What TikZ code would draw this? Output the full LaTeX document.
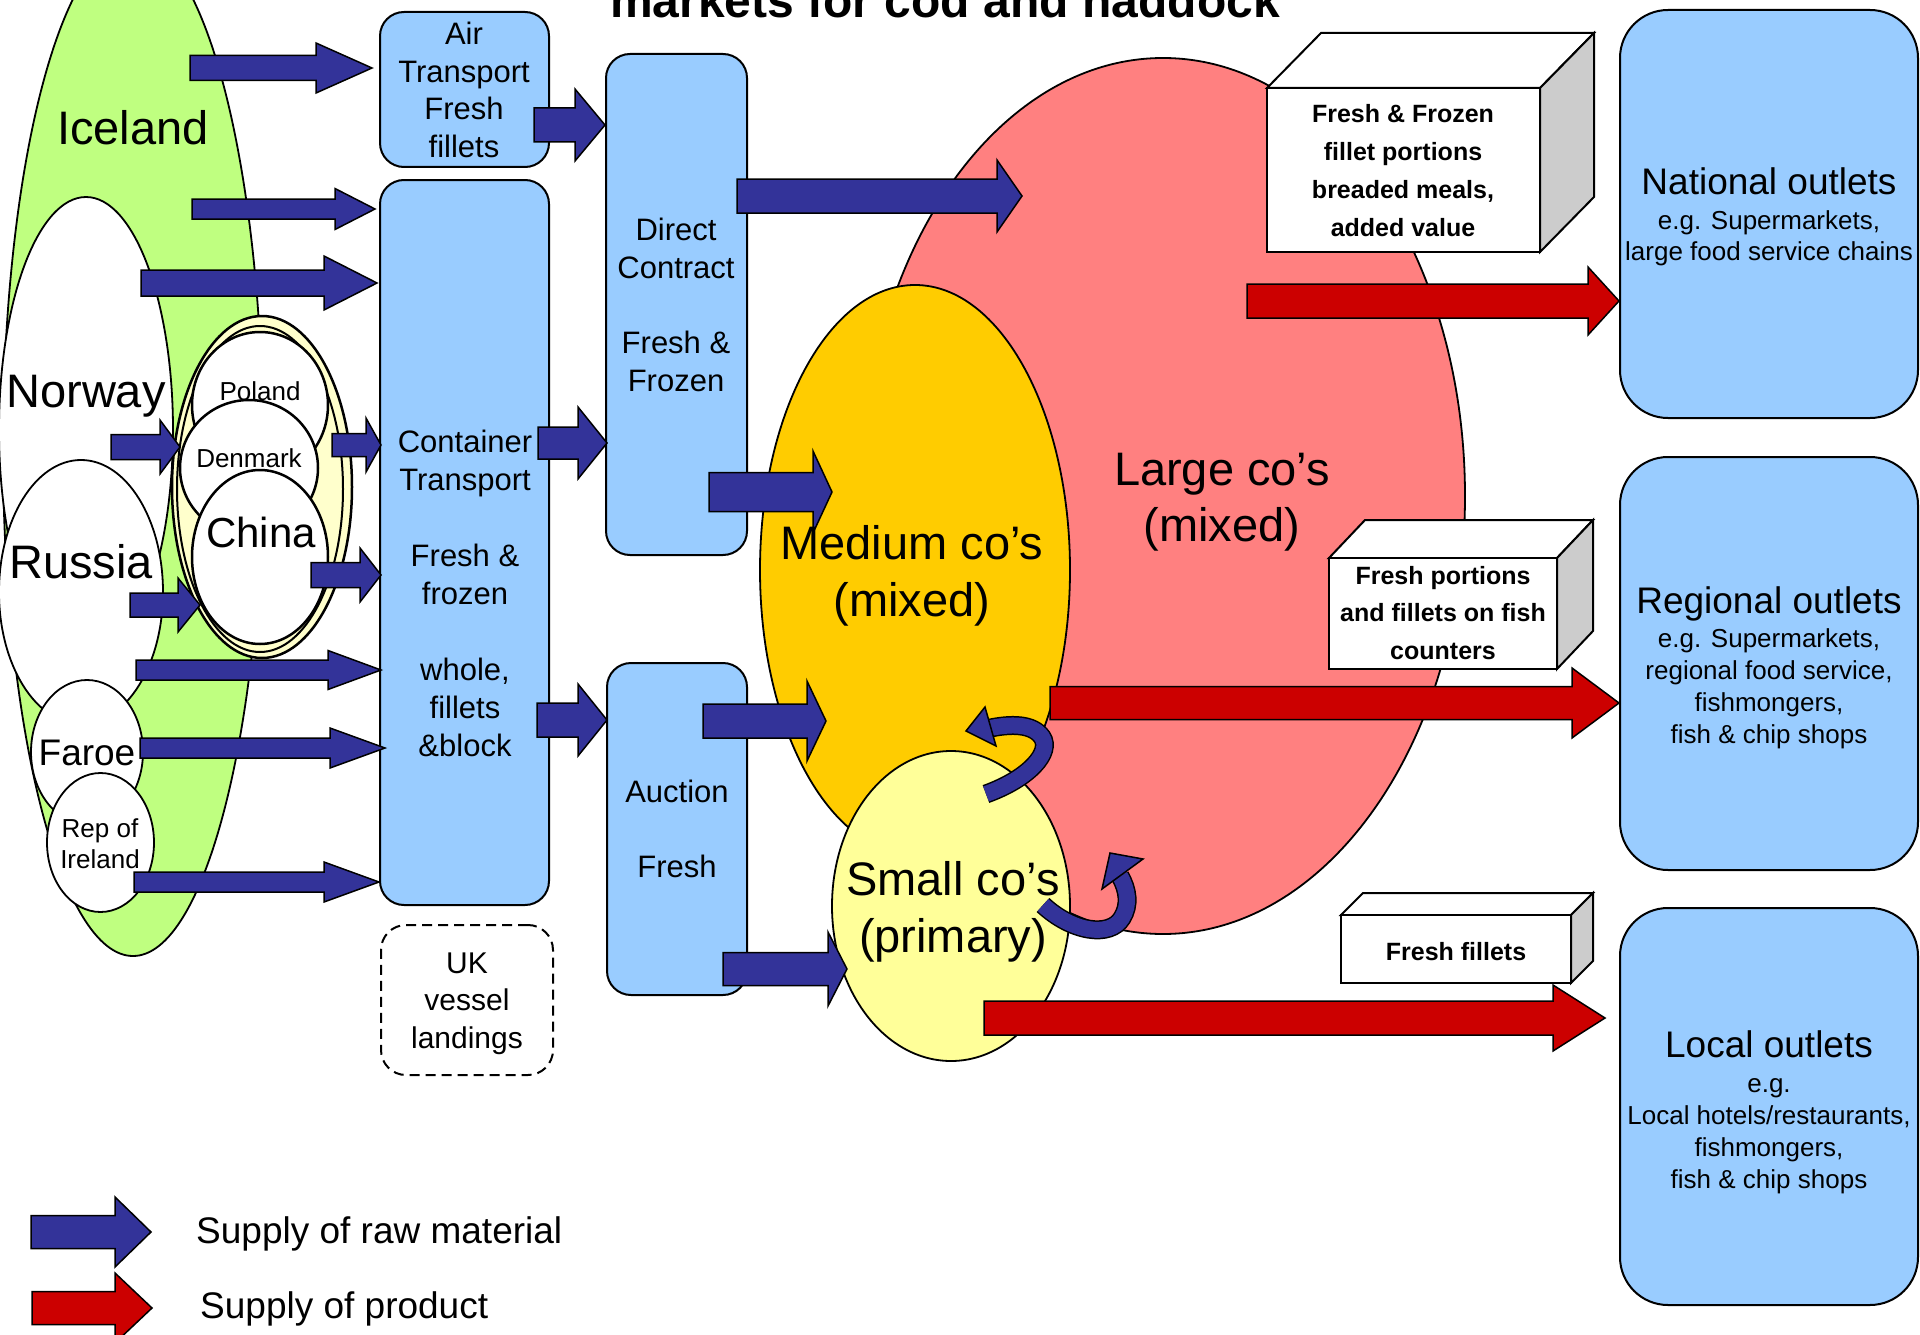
\documentclass[tikz,border=0pt]{standalone}
\usepackage{fontspec}
\setmainfont{Liberation Sans}
\usetikzlibrary{shapes.geometric}
\definecolor{icegreen}{RGB}{191,255,128}
\definecolor{boxblue}{RGB}{153,204,255}
\definecolor{cream}{RGB}{255,255,204}
\definecolor{largepink}{RGB}{255,128,128}
\definecolor{medorange}{RGB}{255,204,0}
\definecolor{smallyellow}{RGB}{255,255,153}
\definecolor{rawblue}{RGB}{51,51,153}
\definecolor{prodred}{RGB}{204,0,0}
\definecolor{sidegray}{RGB}{204,204,204}
\newcommand{\fsz}[2]{\fontsize{#1}{#2}\selectfont}
\newcommand{\ml}[1]{\begin{tabular}[t]{@{}c@{}}#1\end{tabular}}
\newcommand{\blkarrow}[7][rawarrow]{\draw[#1] (#2,#4-#5) -- (#3-#7,#4-#5) -- (#3-#7,#4-#6) -- (#3,#4) -- (#3-#7,#4+#6) -- (#3-#7,#4+#5) -- (#2,#4+#5) -- cycle;}
\tikzset{
 ell/.style={ellipse, draw, line width=1.8pt, inner sep=0pt},
 rbox/.style={rectangle, draw, fill=boxblue, line width=2pt, inner sep=0pt},
 lbl/.style={anchor=base, inner sep=0pt},
 rawarrow/.style={fill=rawblue, draw=black, line width=1.5pt, line join=miter},
 prodarrow/.style={fill=prodred, draw=black, line width=1.5pt, line join=miter},
 face/.style={draw=black, line width=2pt, line join=miter}
}
\begin{document}
\begin{tikzpicture}[x=1pt,y=-1pt]
\useasboundingbox (0,0) rectangle (1920,1335);
\fill[white] (0,0) rectangle (1920,1335);

% ---- supplier countries
\node[ell, fill=icegreen, minimum width=260pt, minimum height=1014pt] (iceland) at (133,449) {};
\node[ell, fill=white, minimum width=174pt, minimum height=466pt] (norway) at (86,430) {};
\node[ell, fill=white, minimum width=164pt, minimum height=264pt] (russia) at (81,592) {};
\node[ell, fill=white, minimum width=112pt, minimum height=144pt] (faroe) at (87,752) {};
\node[ell, fill=white, minimum width=107pt, minimum height=139pt] (ireland) at (100.5,842.5) {};
\node[ell, fill=cream, line width=2.5pt, minimum width=180pt, minimum height=342pt] (group) at (262,487) {};
\node[ell, line width=2pt, minimum width=166pt, minimum height=326pt] (groupin) at (260,489) {};
\node[ell, fill=white, line width=2.5pt, minimum width=136pt, minimum height=146pt] (poland) at (260,405) {};
\node[ell, fill=white, line width=2.5pt, minimum width=138pt, minimum height=136pt] (denmark) at (249,468) {};
\node[ell, fill=white, line width=2.5pt, minimum width=136pt, minimum height=174pt] (china) at (260,557) {};

% ---- transport boxes
\node[rbox, rounded corners=24pt, minimum width=169pt, minimum height=155pt] (air) at (464.5,89.5) {};
\node[rbox, rounded corners=24pt, minimum width=169pt, minimum height=725pt] (cont) at (464.5,542.5) {};
\node[rectangle, draw, dash pattern=on 10pt off 6pt, line width=2pt, rounded corners=25pt, minimum width=172pt, minimum height=150pt, inner sep=0pt] (uk) at (467,1000) {};
\node[rbox, rounded corners=24pt, minimum width=141pt, minimum height=501pt] (direct) at (676.5,304.5) {};
\node[rbox, rounded corners=24pt, minimum width=140pt, minimum height=332pt] (auction) at (677,829) {};

% ---- companies
\node[ell, fill=largepink, minimum width=604pt, minimum height=876pt] (large) at (1163,496) {};
\node[ell, fill=medorange, minimum width=310pt, minimum height=570pt] (medium) at (915,570) {};
\node[ell, fill=smallyellow, minimum width=238pt, minimum height=310pt] (small) at (951,906) {};

% ---- outlets
\node[rbox, rounded corners=48pt, minimum width=298pt, minimum height=408pt] (national) at (1769,214) {};
\node[rbox, rounded corners=48pt, minimum width=298pt, minimum height=413pt] (regional) at (1769,663.5) {};
\node[rbox, rounded corners=48pt, minimum width=298pt, minimum height=397pt] (local) at (1769,1106.5) {};

% ---- raw material arrows
\blkarrow{190}{372}{68}{12.5}{25}{56}
\blkarrow{192}{375}{209}{10}{20.5}{40}
\blkarrow{141}{377}{283}{13}{27}{53}
\blkarrow{111}{180}{447}{12.5}{27}{20}
\blkarrow{332}{381}{445}{11.5}{27}{15}
\blkarrow{534}{605}{125}{17}{36}{30}
\blkarrow{538}{607}{443}{16}{36}{29}
\blkarrow{130}{200}{605}{12}{27}{22}
\blkarrow{311}{381}{575}{12.5}{27}{21}
\blkarrow{136}{381}{670}{10}{19.5}{53}
\blkarrow{140}{385}{748}{10}{20}{55}
\blkarrow{134}{379}{882}{10}{20}{55}
\blkarrow{537}{607}{720}{17}{36}{29}
\blkarrow{737}{1022}{196}{17}{36}{25}
\blkarrow{709}{832}{492}{19.5}{41}{19}
\blkarrow{703}{826}{721}{17}{40}{19}
\blkarrow{723}{847}{969}{16.5}{37}{19}
\blkarrow{31}{151}{1232}{16.5}{35}{36}

% ---- product arrows
\blkarrow[prodarrow]{1247}{1619}{301}{17}{34}{31}
\blkarrow[prodarrow]{1050}{1619}{703}{16.5}{35}{47}
\blkarrow[prodarrow]{984}{1605}{1018}{17}{33}{52}
\blkarrow[prodarrow]{32}{152}{1308}{16.5}{35}{37}

% ---- product boxes (3D)
\draw[face, fill=white] (1267,88) -- (1321,33) -- (1594,33) -- (1540,88) -- cycle;
\draw[face, fill=sidegray] (1540,88) -- (1594,33) -- (1594,197) -- (1540,252) -- cycle;
\draw[face, fill=white] (1267,88) rectangle (1540,252);
\draw[face, fill=white] (1329,558) -- (1365,520) -- (1593,520) -- (1557,558) -- cycle;
\draw[face, fill=sidegray] (1557,558) -- (1593,520) -- (1593,631) -- (1557,669) -- cycle;
\draw[face, fill=white] (1329,558) rectangle (1557,669);
\draw[face, fill=white] (1341,915) -- (1363,893) -- (1593,893) -- (1571,915) -- cycle;
\draw[face, fill=sidegray] (1571,915) -- (1593,893) -- (1593,961) -- (1571,983) -- cycle;
\draw[face, fill=white] (1341,915) rectangle (1571,983);

% ---- texts
\node[lbl, font=\fsz{47}{56}] (ticeland) at (133,145) {Iceland};
\node[lbl, font=\fsz{47}{56}] (tnorway) at (86,407) {Norway};
\node[lbl, font=\fsz{47}{56}] (trussia) at (81,578) {Russia};
\node[lbl, font=\fsz{37}{44}] (tfaroe) at (87,765) {Faroe};
\node[lbl, font=\fsz{26}{31}] (tireland) at (100,837) {\ml{Rep of\\Ireland}};
\node[lbl, font=\fsz{26}{31}] (tpoland) at (260,400) {Poland};
\node[lbl, font=\fsz{26}{31}] (tdenmark) at (249,467) {Denmark};
\node[lbl, font=\fsz{42}{50}] (tchina) at (261,547) {China};

\node[lbl, font=\fsz{31}{37.5}] (tair) at (464,45) {\ml{Air\\Transport\\Fresh\\fillets}};
\node[lbl, font=\fsz{31}{38}] (tcont) at (465,452) {\ml{Container\\Transport\\ \\Fresh \&\\frozen\\ \\whole,\\fillets\\\&block}};
\node[lbl, font=\fsz{30}{37.5}] (tuk) at (467,973) {\ml{UK\\vessel\\landings}};
\node[lbl, font=\fsz{31}{38}] (tdirect) at (676,240) {\ml{Direct\\Contract\\ \\Fresh \&\\Frozen}};
\node[lbl, font=\fsz{31}{37.5}] (tauction) at (677,802) {\ml{Auction\\ \\Fresh}};

\node[lbl, font=\fsz{47}{56}] (tlarge) at (1222,485) {\ml{Large co’s\\(mixed)}};
\node[lbl, font=\fsz{47}{57}] (tmedium) at (912,559) {\ml{Medium co’s\\(mixed)}};
\node[lbl, font=\fsz{47}{57}] (tsmall) at (953,895) {\ml{Small co’s\\(primary)}};

\node[lbl, font=\fsz{37}{44}] (tnat) at (1769,194) {National outlets};
\node[lbl, font=\fsz{26}{31.5}] (tnat2) at (1769,229) {\ml{e.g. Supermarkets,\\large food service chains}};
\node[lbl, font=\fsz{37}{44}] (treg) at (1769,613) {Regional outlets};
\node[lbl, font=\fsz{26}{32}] (treg2) at (1769,647) {\ml{e.g. Supermarkets,\\regional food service,\\fishmongers,\\fish \& chip shops}};
\node[lbl, font=\fsz{37}{44}] (tloc) at (1769,1057) {Local outlets};
\node[lbl, font=\fsz{26}{32}] (tloc2) at (1769,1092) {\ml{e.g.\\Local hotels/restaurants,\\fishmongers,\\fish \& chip shops}};

\node[lbl, font=\bfseries\fsz{25}{38}] (tbox1) at (1403,123) {\ml{Fresh \& Frozen\\fillet portions\\breaded meals,\\added value}};
\node[lbl, font=\bfseries\fsz{25}{37.5}] (tbox2) at (1443,584) {\ml{Fresh portions\\and fillets on fish\\counters}};
\node[lbl, font=\bfseries\fsz{25}{30}] (tbox3) at (1456,960) {Fresh fillets};

% ---- curved arrows between companies
\draw[line width=19pt, black] (986,794) .. controls (1030,778) and (1052,752) .. (1042,737) .. controls (1033,724) and (1012,723) .. (986,729);
\draw[line width=16pt, rawblue] (986,794) .. controls (1030,778) and (1052,752) .. (1042,737) .. controls (1033,724) and (1012,723) .. (986,729);
\draw[rawarrow] (966,731) -- (985,707) -- (996,746) -- cycle;
\draw[line width=19pt, black] (1043,905) .. controls (1072,932) and (1110,938) .. (1122,918) .. controls (1130,905) and (1128,890) .. (1120,876);
\draw[line width=16pt, rawblue] (1043,905) .. controls (1072,932) and (1110,938) .. (1122,918) .. controls (1130,905) and (1128,890) .. (1120,876);
\draw[rawarrow] (1110,853) -- (1102,889) -- (1143,859) -- cycle;

% ---- title and legend
\node[lbl, font=\bfseries\fsz{48}{56}] (title) at (945,18) {markets for cod and haddock};
\node[anchor=base west, inner sep=0pt, font=\fsz{37}{44}] (leg1) at (196,1243) {Supply of raw material};
\node[anchor=base west, inner sep=0pt, font=\fsz{37}{44}] (leg2) at (200,1318) {Supply of product};
\end{tikzpicture}
\end{document}
